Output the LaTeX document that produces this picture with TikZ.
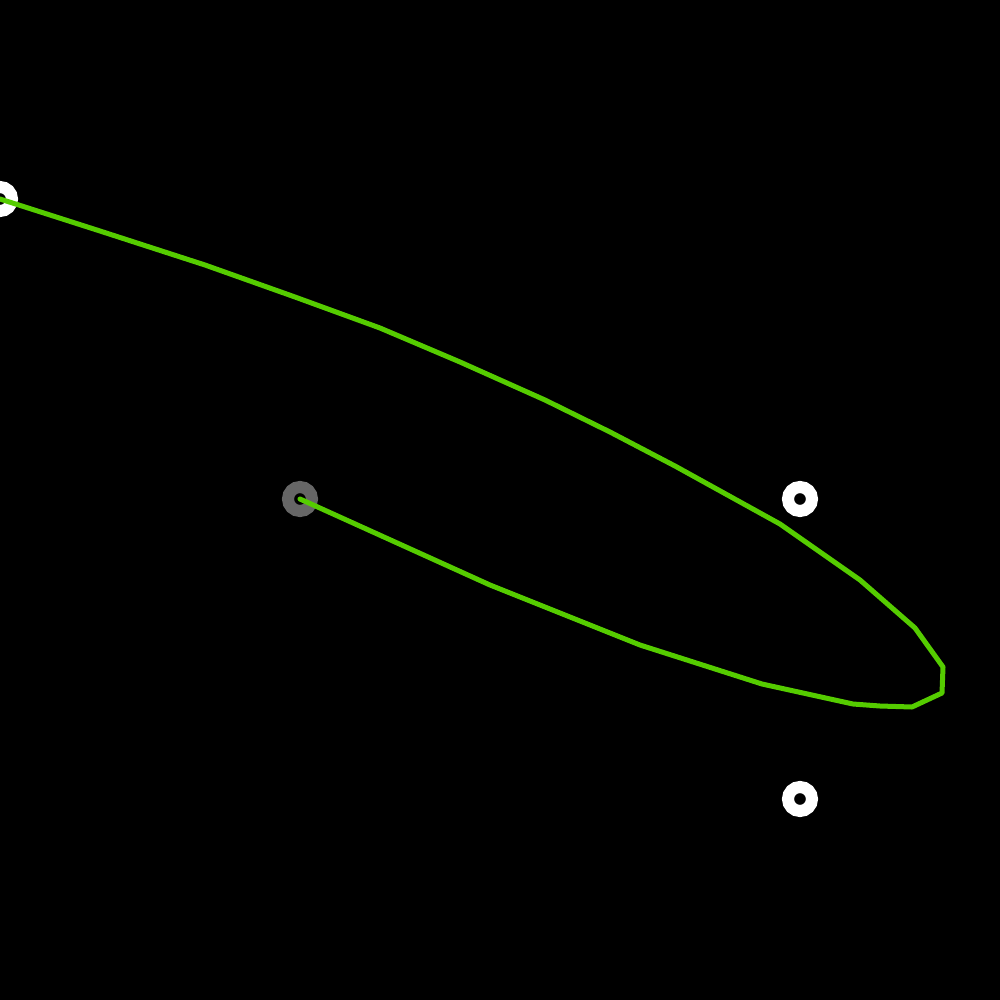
\documentclass[tikz,border=0pt]{standalone}
\begin{document}
\begin{tikzpicture}[x=0.01cm,y=-0.01cm,
  ring/.style={circle,draw=#1,line width=0.12cm,minimum size=0.24cm,inner sep=0pt},
  track/.style={draw=trackgreen,line width=0.05cm,line join=round,line cap=round}]
\definecolor{trackgreen}{RGB}{85,204,0}
\definecolor{ringgray}{RGB}{102,102,102}
\fill[black] (0,0) rectangle (1000,1000);
\useasboundingbox (0,0) rectangle (1000,1000);
\node[ring=white] (s) at (0,199) {};
\node[ring=white] (a) at (800,499) {};
\node[ring=white] (b) at (800,799) {};
\node[ring=ringgray] (g) at (300,499) {};
\draw[track] (s.center) -- (100,231) -- (205,265) -- (295,297) -- (380,328) -- (460,362) -- (545,400)
  -- (610,432) -- (675,466) -- (780,524) -- (860,580) -- (915,628) -- (943,667) -- (942,693)
  -- (912,707) -- (880,706) -- (853,704) -- (762,684) -- (640,645) -- (490,585) -- (g.center);
\end{tikzpicture}
\end{document}
